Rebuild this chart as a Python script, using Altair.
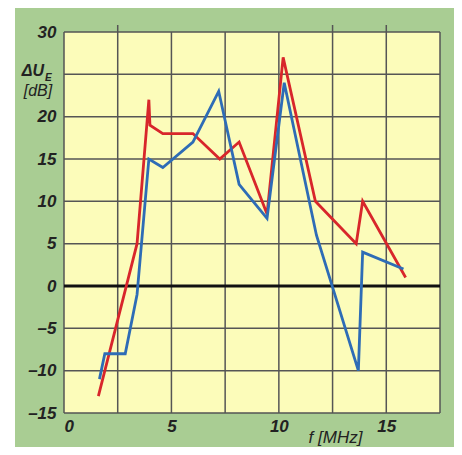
import altair as alt
import pandas as pd

# data
red_f = [1.6, 3.4, 3.95, 4.0, 4.6, 6.0, 7.25, 8.15, 9.45, 10.2, 11.7, 13.6, 13.9, 15.9]
red_u = [-13, 5, 22, 19, 18, 18, 15, 17, 8.5, 27, 10, 5, 10, 1]
blue_f = [1.65, 1.9, 2.85, 3.4, 3.95, 4.6, 6.0, 7.2, 8.15, 9.45, 10.25, 11.75, 13.7, 13.9, 15.8]
blue_u = [-11, -8, -8, -1, 15, 14, 17, 23, 12, 8, 24, 6, -10, 4, 2]

y_ticks = [30, 20, 15, 10, 5, 0, -5, -10, -15]
x_ticks = [0, 5, 10, 15]
x_grid = [0, 2.5, 5, 7.5, 10, 12.5, 15, 17.5]
y_grid = [-15, -10, -5, 0, 5, 10, 15, 20, 25, 30]
top_ticks = [2.5, 12.5, 15]

W, H = 376, 381
FONT = "Liberation Sans"

df = pd.DataFrame(
    {"f": red_f + blue_f, "u": red_u + blue_u,
     "s": ["rot"] * len(red_f) + ["blau"] * len(blue_f),
     "o": list(range(len(red_f))) + list(range(len(blue_f)))}
)

xs = alt.Scale(domain=[0, 17.5], nice=False, zero=False)
ys = alt.Scale(domain=[-15, 30], nice=False, zero=False)

x_axis = alt.Axis(values=x_ticks, grid=False, ticks=False, domain=False, zindex=2,
                  labelFont=FONT, labelFontSize=17, labelFontWeight="bold",
                  labelFontStyle="italic", labelColor="#222222", labelPadding=5,
                  title="f  [MHz]", titleFont=FONT, titleFontSize=17,
                  titleFontWeight="normal", titleFontStyle="italic", titleColor="#222222",
                  titleX=271, titleY=24, titleBaseline="middle", titleAnchor="middle")
y_axis = alt.Axis(values=y_ticks, grid=False, ticks=False, domain=False, zindex=2,
                  labelFont=FONT, labelFontSize=17, labelFontWeight="bold",
                  labelFontStyle="italic", labelColor="#222222", labelPadding=8,
                  labelExpr="datum.value < 0 ? '\u2013' + abs(datum.value) : datum.label",
                  title=None)

# green frame behind everything
frame = alt.Chart(pd.DataFrame({"a": [0]})).mark_rect(color="#a9cd93", clip=False).encode(
    x=alt.value(-49), x2=alt.value(W + 14), y=alt.value(-24), y2=alt.value(H + 40)
)
panel = alt.Chart(pd.DataFrame({"a": [0]})).mark_rect(color="#fcfcba").encode(
    x=alt.value(0), x2=alt.value(W), y=alt.value(0), y2=alt.value(H)
)

vgrid = alt.Chart(pd.DataFrame({"g": x_grid})).mark_rule(color="#555555", strokeWidth=1.5).encode(
    x=alt.X("g:Q", scale=xs, axis=x_axis, title="f  [MHz]")
)
hgrid = alt.Chart(pd.DataFrame({"g": y_grid})).mark_rule(color="#555555", strokeWidth=1.5).encode(
    y=alt.Y("g:Q", scale=ys, axis=y_axis)
)
zero = alt.Chart(pd.DataFrame({"g": [0]})).mark_rule(color="#111111", strokeWidth=3).encode(
    y=alt.Y("g:Q", scale=ys, axis=y_axis)
)
topt = alt.Chart(pd.DataFrame({"g": top_ticks})).mark_rule(color="#555555", strokeWidth=1.5, clip=False).encode(
    x=alt.X("g:Q", scale=xs, axis=x_axis, title="f  [MHz]"), y=alt.value(-7), y2=alt.value(0)
)

lines = alt.Chart(df).mark_line(strokeWidth=2.8, strokeJoin="miter").encode(
    x=alt.X("f:Q", scale=xs, axis=x_axis, title="f  [MHz]"),
    y=alt.Y("u:Q", scale=ys, axis=y_axis),
    color=alt.Color("s:N", scale=alt.Scale(domain=["rot", "blau"], range=["#d8262b", "#2e6cb6"]), legend=None),
    order="o:Q",
    detail="s:N",
)

lbl = pd.DataFrame({"a": [0]})
t1 = alt.Chart(lbl).mark_text(text="\u0394U", font=FONT, fontSize=16, fontStyle="italic",
                              fontWeight="bold", align="right", baseline="middle", color="#222222",
                              clip=False).encode(x=alt.value(-20), y=alt.value(39))
t2 = alt.Chart(lbl).mark_text(text="E", font=FONT, fontSize=10, fontStyle="italic",
                              fontWeight="bold", align="left", baseline="middle", color="#222222",
                              clip=False).encode(x=alt.value(-19), y=alt.value(46))
t3 = alt.Chart(lbl).mark_text(text="[dB]", font=FONT, fontSize=16, fontStyle="italic",
                              align="center", baseline="middle", color="#222222",
                              clip=False).encode(x=alt.value(-26), y=alt.value(59))

chart = alt.layer(frame, panel, vgrid, hgrid, zero, topt, lines, t1, t2, t3).properties(
    width=W, height=H,
    autosize=alt.AutoSizeParams(type="none"),
    padding={"left": 56, "top": 24, "right": 14, "bottom": 34},
    background="white",
).configure_view(stroke="#1a1a1a", strokeWidth=2.5)

chart.save("out.html", embed_options={"renderer": "svg", "actions": False})
